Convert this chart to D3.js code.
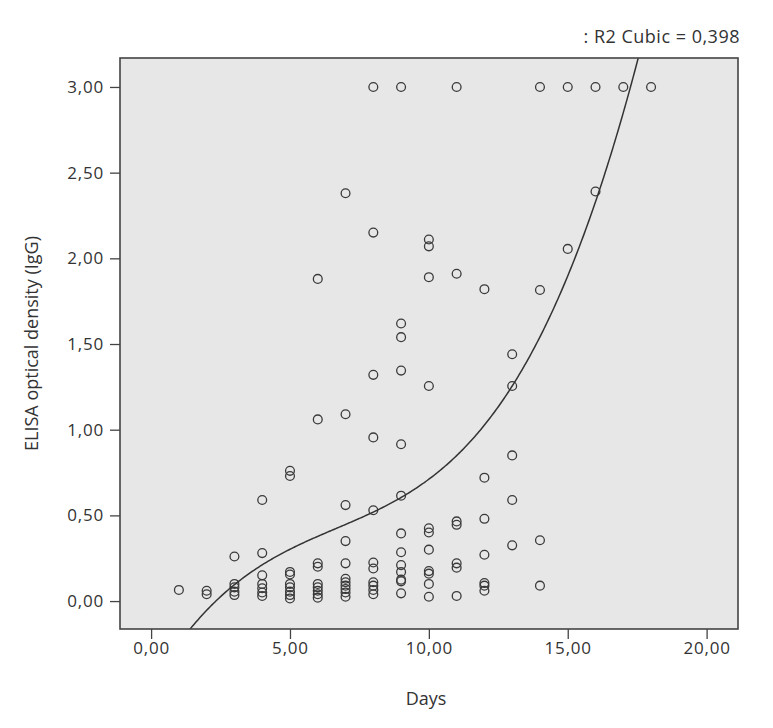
<!DOCTYPE html>
<html>
<head>
<meta charset="utf-8">
<script src="https://cdn.jsdelivr.net/npm/d3@7"></script>
<style>
  body { margin: 0; background: #fff; }
  text { font-family: "Open Sans", "DejaVu Sans", sans-serif; fill: #333; }
</style>
</head>
<body>
<svg width="773" height="728"></svg>
<script>
// days and ELISA optical density values
var days = [1, 2, 3, 4, 5, 6, 7, 8, 9, 10, 11, 12, 13, 14, 15, 16, 17, 18];
var odValues = [
  [0.065],
  [0.06, 0.04],
  [0.26, 0.10, 0.08, 0.055, 0.035],
  [0.59, 0.28, 0.15, 0.10, 0.075, 0.05, 0.03],
  [0.76, 0.73, 0.17, 0.155, 0.10, 0.08, 0.055, 0.035, 0.015],
  [1.88, 1.06, 0.22, 0.20, 0.10, 0.08, 0.06, 0.04, 0.02],
  [2.38, 1.09, 0.56, 0.35, 0.22, 0.13, 0.11, 0.09, 0.07, 0.05, 0.025],
  [3.00, 2.15, 1.32, 0.955, 0.53, 0.225, 0.19, 0.11, 0.09, 0.065, 0.04],
  [3.00, 1.62, 1.54, 1.345, 0.915, 0.615, 0.395, 0.285, 0.21, 0.17, 0.125, 0.115, 0.045],
  [2.11, 2.07, 1.89, 1.255, 0.425, 0.40, 0.30, 0.175, 0.16, 0.10, 0.025],
  [3.00, 1.91, 0.465, 0.445, 0.22, 0.195, 0.03],
  [1.82, 0.72, 0.48, 0.27, 0.105, 0.09, 0.06],
  [1.44, 1.255, 0.85, 0.59, 0.325],
  [3.00, 1.815, 0.355, 0.09],
  [3.00, 2.055],
  [3.00, 2.39],
  [3.00],
  [3.00]
];
// cubic fit: y = c0 + c1 x + c2 x^2 + c3 x^3
var cubicCoef = [-0.493, 0.2753, -0.03101, 0.001552];
var xTicks = [0, 5, 10, 15, 20];
var yTicks = [0, 0.5, 1, 1.5, 2, 2.5, 3];

var points = [];
days.forEach(function (d, i) {
  odValues[i].forEach(function (v) { points.push({ x: d, y: v }); });
});

var margin = { left: 120, right: 35, top: 58, bottom: 99 };
var width = 773, height = 728;

var svg = d3.select("svg");

var x = d3.scaleLinear()
  .domain([-1.12, 21.13])
  .range([margin.left, width - margin.right]);

var y = d3.scaleLinear()
  .domain([-0.163, 3.169])
  .range([height - margin.bottom, margin.top]);

var fmt = function (v) { return d3.format(".2f")(v).replace(".", ","); };

svg.append("defs").append("clipPath").attr("id", "clip")
  .append("rect")
  .attr("x", margin.left).attr("y", margin.top)
  .attr("width", width - margin.left - margin.right)
  .attr("height", height - margin.top - margin.bottom);

svg.append("rect")
  .attr("x", margin.left).attr("y", margin.top)
  .attr("width", width - margin.left - margin.right)
  .attr("height", height - margin.top - margin.bottom)
  .attr("fill", "#e6e7e6");

var xAxis = svg.append("g")
  .attr("transform", "translate(0," + (height - margin.bottom) + ")")
  .call(d3.axisBottom(x).tickValues(xTicks).tickFormat(fmt).tickSize(10).tickPadding(3));

var yAxis = svg.append("g")
  .attr("transform", "translate(" + margin.left + ",0)")
  .call(d3.axisLeft(y).tickValues(yTicks).tickFormat(fmt).tickSize(10).tickPadding(6));

[xAxis, yAxis].forEach(function (g) {
  g.select(".domain").remove();
  g.selectAll("line").attr("stroke", "#444").attr("stroke-width", 1.3);
  g.selectAll("text")
    .style("font-size", "17px")
    .style("letter-spacing", "0.8px")
    .attr("fill", "#333");
});

// scatter
svg.append("g")
  .selectAll("circle")
  .data(points).enter()
  .append("circle")
  .attr("cx", function (d) { return x(d.x); })
  .attr("cy", function (d) { return y(d.y); })
  .attr("r", 4.4)
  .attr("fill", "none")
  .attr("stroke", "#3a3a3a")
  .attr("stroke-width", 1.3);

// fit line
var curveData = d3.range(-1.2, 21.2, 0.05).map(function (t) {
  return { x: t, y: cubicCoef[0] + cubicCoef[1] * t + cubicCoef[2] * t * t + cubicCoef[3] * t * t * t };
});
var line = d3.line()
  .x(function (d) { return x(d.x); })
  .y(function (d) { return y(d.y); });
svg.append("path")
  .datum(curveData)
  .attr("clip-path", "url(#clip)")
  .attr("d", line)
  .attr("fill", "none")
  .attr("stroke", "#333")
  .attr("stroke-width", 1.5);

// plot frame
svg.append("rect")
  .attr("x", margin.left).attr("y", margin.top)
  .attr("width", width - margin.left - margin.right)
  .attr("height", height - margin.top - margin.bottom)
  .attr("fill", "none")
  .attr("stroke", "#444")
  .attr("stroke-width", 1.6);

svg.append("text")
  .attr("x", 740).attr("y", 43)
  .attr("text-anchor", "end")
  .style("font-size", "18px")
  .style("letter-spacing", "0.5px")
  .text(": R2  Cubic = 0,398");

svg.append("text")
  .attr("x", 426).attr("y", 705)
  .attr("text-anchor", "middle")
  .style("font-size", "18px")
  .text("Days");

svg.append("text")
  .attr("transform", "translate(38," + ((margin.top + height - margin.bottom) / 2) + ") rotate(-90)")
  .attr("text-anchor", "middle")
  .style("font-size", "18px")
  .text("ELISA optical density (IgG)");
</script>
</body>
</html>
